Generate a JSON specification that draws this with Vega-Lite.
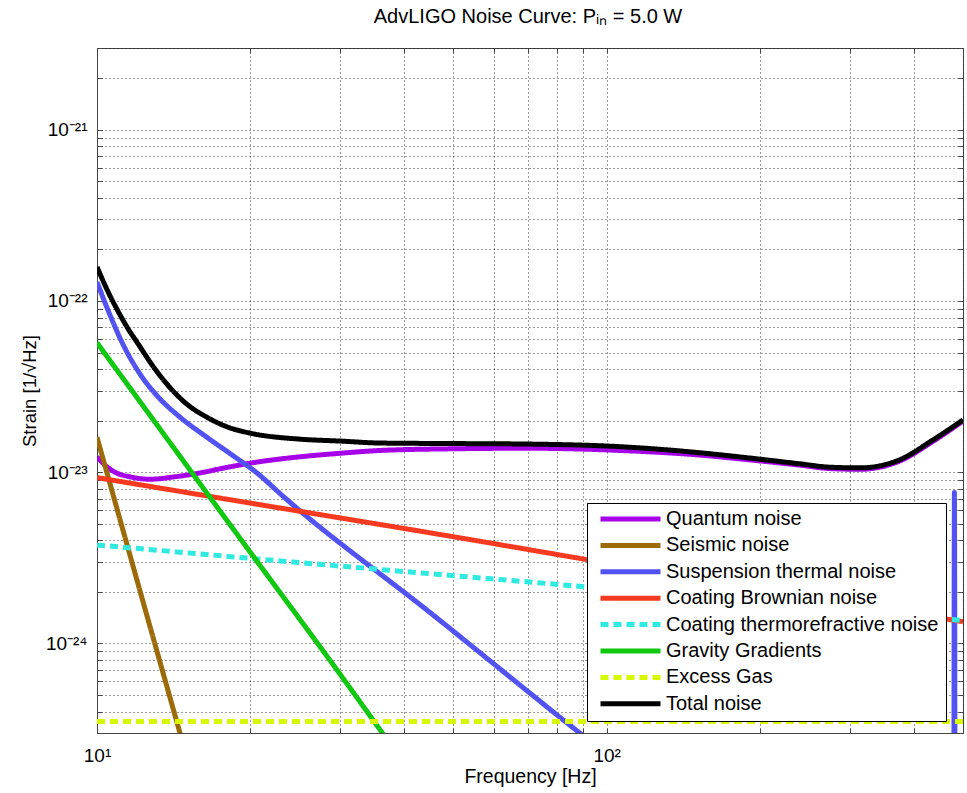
{
  "$schema": "https://vega.github.io/schema/vega-lite/v6.json",
  "autosize": {"type": "none"},
  "padding": {"left": 97, "top": 48, "right": 4, "bottom": 60},
  "width": 866,
  "height": 685,
  "background": "white",
  "title": {
    "text": "AdvLIGO Noise Curve: Pᵢₙ = 5.0 W",
    "fontSize": 20,
    "fontWeight": "normal",
    "font": "Liberation Sans",
    "color": "black",
    "offset": 12,
    "dx": -2
  },
  "config": {
    "font": "Liberation Sans",
    "view": {"stroke": "#444", "strokeWidth": 1},
    "axis": {
      "labelFont": "Liberation Sans",
      "titleFont": "Liberation Sans",
      "labelColor": "black",
      "titleColor": "black",
      "titleFontWeight": "normal",
      "labelFontSize": 19,
      "titleFontSize": 19.5,
      "domainColor": "#444",
      "tickColor": "#444",
      "gridColor": "#222",
      "gridDash": [1, 3],
      "gridOpacity": 0.9,
      "labelOverlap": false,
      "labelBound": false,
      "labelFlush": false
    },
    "legend": {
      "labelFont": "Liberation Sans",
      "labelFontSize": 20,
      "labelColor": "black",
      "strokeColor": "black",
      "fillColor": "white",
      "padding": 7,
      "rowPadding": 6.4,
      "clipHeight": 18,
      "symbolType": "stroke",
      "symbolSize": 3600,
      "symbolStrokeWidth": 5,
      "symbolOffset": 4,
      "labelOffset": 3,
      "labelLimit": 400
    }
  },
  "data": {
    "values": [
      {"s": "Quantum noise", "f": 10, "h": 1.23e-23},
      {"s": "Quantum noise", "f": 10.4, "h": 1.09e-23},
      {"s": "Quantum noise", "f": 10.85, "h": 1.0e-23},
      {"s": "Quantum noise", "f": 11.6, "h": 9.4e-24},
      {"s": "Quantum noise", "f": 12.7, "h": 9.1e-24},
      {"s": "Quantum noise", "f": 14.2, "h": 9.4e-24},
      {"s": "Quantum noise", "f": 15.9, "h": 9.9e-24},
      {"s": "Quantum noise", "f": 17.8, "h": 1.06e-23},
      {"s": "Quantum noise", "f": 20, "h": 1.13e-23},
      {"s": "Quantum noise", "f": 25, "h": 1.23e-23},
      {"s": "Quantum noise", "f": 30, "h": 1.29e-23},
      {"s": "Quantum noise", "f": 36, "h": 1.34e-23},
      {"s": "Quantum noise", "f": 50, "h": 1.37e-23},
      {"s": "Quantum noise", "f": 70, "h": 1.38e-23},
      {"s": "Quantum noise", "f": 106, "h": 1.34e-23},
      {"s": "Quantum noise", "f": 152, "h": 1.26e-23},
      {"s": "Quantum noise", "f": 191, "h": 1.18e-23},
      {"s": "Quantum noise", "f": 239, "h": 1.1e-23},
      {"s": "Quantum noise", "f": 274, "h": 1.05e-23},
      {"s": "Quantum noise", "f": 314, "h": 1.04e-23},
      {"s": "Quantum noise", "f": 375, "h": 1.16e-23},
      {"s": "Quantum noise", "f": 436, "h": 1.51e-23},
      {"s": "Quantum noise", "f": 500, "h": 1.99e-23},

      {"s": "Seismic noise", "f": 10, "h": 1.6e-23},
      {"s": "Seismic noise", "f": 12, "h": 2.3e-24},
      {"s": "Seismic noise", "f": 15, "h": 2.17e-25},

      {"s": "Suspension thermal noise", "f": 10, "h": 1.29e-22},
      {"s": "Suspension thermal noise", "f": 10.6, "h": 8.3e-23},
      {"s": "Suspension thermal noise", "f": 11.24, "h": 5.6e-23},
      {"s": "Suspension thermal noise", "f": 12.14, "h": 3.75e-23},
      {"s": "Suspension thermal noise", "f": 13.11, "h": 2.8e-23},
      {"s": "Suspension thermal noise", "f": 14.54, "h": 2.1e-23},
      {"s": "Suspension thermal noise", "f": 16.43, "h": 1.6e-23},
      {"s": "Suspension thermal noise", "f": 18.48, "h": 1.25e-23},
      {"s": "Suspension thermal noise", "f": 20.6, "h": 9.9e-24},
      {"s": "Suspension thermal noise", "f": 23.15, "h": 7.26e-24},
      {"s": "Suspension thermal noise", "f": 45.6, "h": 1.47e-24},
      {"s": "Suspension thermal noise", "f": 88.5, "h": 3.0e-25},
      {"s": "Suspension thermal noise", "f": 100, "h": 2.25e-25},
      {"s": "Suspension thermal noise", "f": 479, "h": 1e-26},
      {"s": "Suspension thermal noise", "f": 481, "h": 7.6e-24},
      {"s": "Suspension thermal noise", "f": 483, "h": 1e-26},
      {"s": "Suspension thermal noise", "f": 500, "h": 1e-26},

      {"s": "Coating Brownian noise", "f": 10, "h": 9.3e-24},
      {"s": "Coating Brownian noise", "f": 20, "h": 6.6e-24},
      {"s": "Coating Brownian noise", "f": 50, "h": 4.2e-24},
      {"s": "Coating Brownian noise", "f": 100, "h": 2.95e-24},
      {"s": "Coating Brownian noise", "f": 200, "h": 2.08e-24},
      {"s": "Coating Brownian noise", "f": 500, "h": 1.34e-24},

      {"s": "Coating thermorefractive noise", "f": 10, "h": 3.76e-24},
      {"s": "Coating thermorefractive noise", "f": 30, "h": 2.83e-24},
      {"s": "Coating thermorefractive noise", "f": 100, "h": 2.09e-24},
      {"s": "Coating thermorefractive noise", "f": 500, "h": 1.36e-24},

      {"s": "Gravity Gradients", "f": 10, "h": 5.7e-23},
      {"s": "Gravity Gradients", "f": 20, "h": 3.4e-24},
      {"s": "Gravity Gradients", "f": 30, "h": 6.6e-25},
      {"s": "Gravity Gradients", "f": 40, "h": 2.0e-25},

      {"s": "Excess Gas", "f": 10, "h": 3.5e-25},
      {"s": "Excess Gas", "f": 500, "h": 3.5e-25},

      {"s": "Total noise", "f": 10, "h": 1.58e-22},
      {"s": "Total noise", "f": 10.5, "h": 1.14e-22},
      {"s": "Total noise", "f": 11, "h": 8.7e-23},
      {"s": "Total noise", "f": 11.5, "h": 6.9e-23},
      {"s": "Total noise", "f": 12, "h": 5.7e-23},
      {"s": "Total noise", "f": 13, "h": 4.0e-23},
      {"s": "Total noise", "f": 14, "h": 3.05e-23},
      {"s": "Total noise", "f": 15, "h": 2.5e-23},
      {"s": "Total noise", "f": 16.5, "h": 2.08e-23},
      {"s": "Total noise", "f": 18, "h": 1.84e-23},
      {"s": "Total noise", "f": 20, "h": 1.69e-23},
      {"s": "Total noise", "f": 25, "h": 1.56e-23},
      {"s": "Total noise", "f": 30, "h": 1.52e-23},
      {"s": "Total noise", "f": 36, "h": 1.48e-23},
      {"s": "Total noise", "f": 50, "h": 1.47e-23},
      {"s": "Total noise", "f": 70, "h": 1.46e-23},
      {"s": "Total noise", "f": 106, "h": 1.41e-23},
      {"s": "Total noise", "f": 152, "h": 1.3e-23},
      {"s": "Total noise", "f": 191, "h": 1.21e-23},
      {"s": "Total noise", "f": 239, "h": 1.12e-23},
      {"s": "Total noise", "f": 274, "h": 1.07e-23},
      {"s": "Total noise", "f": 314, "h": 1.06e-23},
      {"s": "Total noise", "f": 375, "h": 1.18e-23},
      {"s": "Total noise", "f": 436, "h": 1.54e-23},
      {"s": "Total noise", "f": 500, "h": 2.02e-23}
    ]
  },
  "resolve": {"axis": {"x": "independent", "y": "independent"}},
  "layer": [
    {
      "mark": {"type": "line", "clip": true, "strokeWidth": 5, "strokeCap": "butt", "strokeJoin": "round", "interpolate": "monotone"},
      "encoding": {
        "x": {
          "field": "f",
          "type": "quantitative",
          "scale": {"type": "log", "domain": [10, 500], "nice": false},
          "axis": {
            "orient": "bottom",
            "title": "Frequency [Hz]",
            "grid": true,
            "values": [10, 20, 30, 40, 50, 60, 70, 80, 90, 100, 200, 300, 400, 500],
            "labelExpr": "datum.value == 10 ? '10¹' : datum.value == 100 ? '10²' : ''",
            "tickSize": -5,
            "labelPadding": 18,
            "titlePadding": 2
          }
        },
        "y": {
          "field": "h",
          "type": "quantitative",
          "scale": {"type": "log", "domain": [3e-25, 3e-21], "nice": false},
          "axis": {
            "orient": "left",
            "title": "Strain [1/√Hz]",
            "grid": true,
            "titleFontSize": 18.5,
            "values": [3e-25, 4e-25, 5e-25, 6e-25, 7e-25, 8e-25, 9e-25,
                       1e-24, 2e-24, 3e-24, 4e-24, 5e-24, 6e-24, 7e-24, 8e-24, 9e-24,
                       1e-23, 2e-23, 3e-23, 4e-23, 5e-23, 6e-23, 7e-23, 8e-23, 9e-23,
                       1e-22, 2e-22, 3e-22, 4e-22, 5e-22, 6e-22, 7e-22, 8e-22, 9e-22,
                       1e-21, 2e-21, 3e-21],
            "labelExpr": "datum.value == 1e-21 ? '10⁻²¹' : datum.value == 1e-22 ? '10⁻²²' : datum.value == 1e-23 ? '10⁻²³' : datum.value == 1e-24 ? '10⁻²⁴' : ''",
            "tickSize": -5,
            "labelPadding": 15,
            "titlePadding": 6
          }
        },
        "color": {
          "field": "s",
          "type": "nominal",
          "sort": null,
          "scale": {
            "domain": ["Quantum noise", "Seismic noise", "Suspension thermal noise", "Coating Brownian noise", "Coating thermorefractive noise", "Gravity Gradients", "Excess Gas", "Total noise"],
            "range": ["#A600E8", "#9C6A08", "#5252F2", "#F53A20", "#30EADF", "#10C810", "#D8F800", "#000000"]
          },
          "legend": {"title": null, "orient": "none", "legendX": 490, "legendY": 455}
        },
        "strokeDash": {
          "field": "s",
          "type": "nominal",
          "sort": null,
          "scale": {
            "domain": ["Quantum noise", "Seismic noise", "Suspension thermal noise", "Coating Brownian noise", "Coating thermorefractive noise", "Gravity Gradients", "Excess Gas", "Total noise"],
            "range": [[1, 0], [1, 0], [1, 0], [1, 0], [8, 5], [1, 0], [8, 5], [1, 0]]
          },
          "legend": {"title": null, "orient": "none", "legendX": 490, "legendY": 455}
        }
      }
    },
    {
      "mark": {"type": "point", "opacity": 0, "clip": true},
      "encoding": {
        "x": {
          "field": "f",
          "type": "quantitative",
          "scale": {"type": "log", "domain": [10, 500], "nice": false},
          "axis": {
            "orient": "top",
            "title": null,
            "grid": false,
            "domain": false,
            "labels": false,
            "values": [10, 20, 30, 40, 50, 60, 70, 80, 90, 100, 200, 300, 400, 500],
            "tickSize": -5
          }
        },
        "y": {
          "field": "h",
          "type": "quantitative",
          "scale": {"type": "log", "domain": [3e-25, 3e-21], "nice": false},
          "axis": {
            "orient": "right",
            "title": null,
            "grid": false,
            "domain": false,
            "labels": false,
            "values": [3e-25, 4e-25, 5e-25, 6e-25, 7e-25, 8e-25, 9e-25,
                       1e-24, 2e-24, 3e-24, 4e-24, 5e-24, 6e-24, 7e-24, 8e-24, 9e-24,
                       1e-23, 2e-23, 3e-23, 4e-23, 5e-23, 6e-23, 7e-23, 8e-23, 9e-23,
                       1e-22, 2e-22, 3e-22, 4e-22, 5e-22, 6e-22, 7e-22, 8e-22, 9e-22,
                       1e-21, 2e-21, 3e-21],
            "tickSize": -5
          }
        }
      }
    }
  ]
}
